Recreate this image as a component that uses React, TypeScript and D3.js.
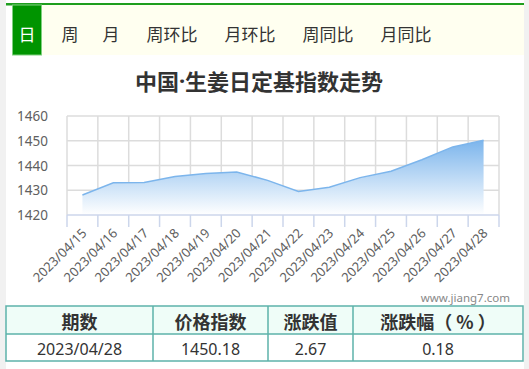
import React from "react";
import * as d3 from "d3";

const tabs = ["日", "周", "月", "周环比", "月环比", "周同比", "月同比"];
const tabX = [27, 70, 111, 172, 250, 328, 406];
const titleA = "中国";
const titleDot = "·";
const titleB = "生姜日定基指数走势";
const dates = [
  "2023/04/15", "2023/04/16", "2023/04/17", "2023/04/18", "2023/04/19", "2023/04/20", "2023/04/21",
  "2023/04/22", "2023/04/23", "2023/04/24", "2023/04/25", "2023/04/26", "2023/04/27", "2023/04/28",
];
const values = [1428.1, 1433.0, 1433.1, 1435.6, 1436.8, 1437.4, 1434.0, 1429.5, 1431.2, 1435.1, 1437.7, 1442.3, 1447.51, 1450.18];
const yTicks = [1420, 1430, 1440, 1450, 1460];
const headers = ["期数", "价格指数", "涨跌值", "涨跌幅（ % ）"];
const row = ["2023/04/28", "1450.18", "2.67", "0.18"];
const colEdges = [6, 153, 268, 353, 523];

const W = 529, H = 369;
const left = 67, right = 499, top = 116, bottom = 215;

export default function App() {
  const x = d3.scaleBand<string>().domain(dates).range([left, right]);
  const y = d3.scaleLinear().domain([1420, 1460]).range([bottom, top]);
  const cx = (d: string) => (x(d) as number) + x.bandwidth() / 2;
  const line = d3.line<number>().x((_, i) => cx(dates[i])).y((v) => y(v));
  const area = d3.area<number>().x((_, i) => cx(dates[i])).y0(bottom).y1((v) => y(v));
  const gridX = dates.map((d) => x(d) as number).concat([right]);
  const font = "'Noto Sans CJK SC', 'Noto Sans', sans-serif";

  return (
    <svg width={W} height={H} style={{ position: "absolute", left: 0, top: 0, fontFamily: font }}>
      <defs>
        <linearGradient id="ag" x1="0" y1="0" x2="0" y2="1">
          <stop offset="0" stopColor="#7cb5ec" stopOpacity={1} />
          <stop offset="1" stopColor="#ffffff" stopOpacity={1} />
        </linearGradient>
      </defs>
      <rect x={0} y={0} width={W} height={H} fill="#ffffff" />
      <rect x={0} y={0} width={6} height={H} fill="#f1f1f1" />
      <rect x={524} y={0} width={5} height={H} fill="#f1f1f1" />
      {/* tab bar */}
      <rect x={6} y={3} width={518} height={2.5} fill="#1e9e1e" />
      <rect x={42} y={5} width={482} height={50} fill="#fffff0" />
      <rect x={12.5} y={5} width={29} height={50} fill="#009400" stroke="#7fcf7f" strokeWidth={1} />
      {tabs.map((t, i) => (
        <text key={t} x={tabX[i]} y={33} textAnchor="middle" dominantBaseline="central"
          fontSize={17} fill={i === 0 ? "#ffffff" : "#333333"}>{t}</text>
      ))}
      {/* title */}
      <text x={259} y={80} textAnchor="middle" dominantBaseline="central" fontSize={22}
        fontWeight="bold" fill="#333333">
        <tspan>{titleA}</tspan>
        <tspan fontFamily="'Noto Sans', sans-serif">{titleDot}</tspan>
        <tspan>{titleB}</tspan>
      </text>
      {/* grid */}
      {yTicks.filter((t) => t !== 1420).map((t) => (
        <line key={t} x1={left} x2={right} y1={y(t)} y2={y(t)} stroke="#dcdcdc" strokeWidth={1.5} />
      ))}
      {gridX.map((gx, i) => (
        <line key={i} x1={gx} x2={gx} y1={top} y2={bottom} stroke="#dcdcdc" strokeWidth={1.5} />
      ))}
      {gridX.map((gx, i) => (
        <line key={"t" + i} x1={gx} x2={gx} y1={bottom} y2={227} stroke="#ccd6eb" strokeWidth={1.5} />
      ))}
      <path d={area(values) as string} fill="url(#ag)" />
      <path d={line(values) as string} fill="none" stroke="#7cb5ec" strokeWidth={1.5} />
      <line x1={left} x2={right} y1={bottom} y2={bottom} stroke="#ccd6eb" strokeWidth={1.5} />
      {yTicks.map((t) => (
        <text key={t} x={48} y={y(t)} textAnchor="end" dominantBaseline="central" fontSize={13.5}
          fill="#606060" fontFamily="'Noto Sans', sans-serif">{t}</text>
      ))}
      {dates.map((d) => (
        <text key={d} transform={`translate(${cx(d) + 5},${234}) rotate(-45)`} textAnchor="end"
          fontSize={13} fill="#606060" fontFamily="'Noto Sans', sans-serif">{d}</text>
      ))}
      <text x={510} y={297} textAnchor="end" dominantBaseline="central" fontSize={11.5} fill="#888888"
        fontFamily="'Noto Sans', sans-serif">www.jiang7.com</text>
      {/* table */}
      <rect x={colEdges[0]} y={306} width={colEdges[4] - colEdges[0]} height={28} fill="#effdf8" />
      <rect x={colEdges[0]} y={306} width={colEdges[4] - colEdges[0]} height={55} fill="none" stroke="#5db2aa" strokeWidth={1.5} />
      <line x1={colEdges[0]} x2={colEdges[4]} y1={334} y2={334} stroke="#5db2aa" strokeWidth={1.5} />
      {colEdges.slice(1, 4).map((cxe) => (
        <line key={cxe} x1={cxe} x2={cxe} y1={306} y2={361} stroke="#5db2aa" strokeWidth={1.5} />
      ))}
      {headers.map((h, i) => (
        <text key={h} x={(colEdges[i] + colEdges[i + 1]) / 2} y={321} textAnchor="middle" dominantBaseline="central"
          fontSize={18} fontWeight="bold" fill="#333333">{h}</text>
      ))}
      {row.map((r, i) => (
        <text key={i} x={(colEdges[i] + colEdges[i + 1]) / 2} y={349} textAnchor="middle" dominantBaseline="central"
          fontSize={16} fill="#333333" fontFamily="'Noto Sans', sans-serif">{r}</text>
      ))}
    </svg>
  );
}
